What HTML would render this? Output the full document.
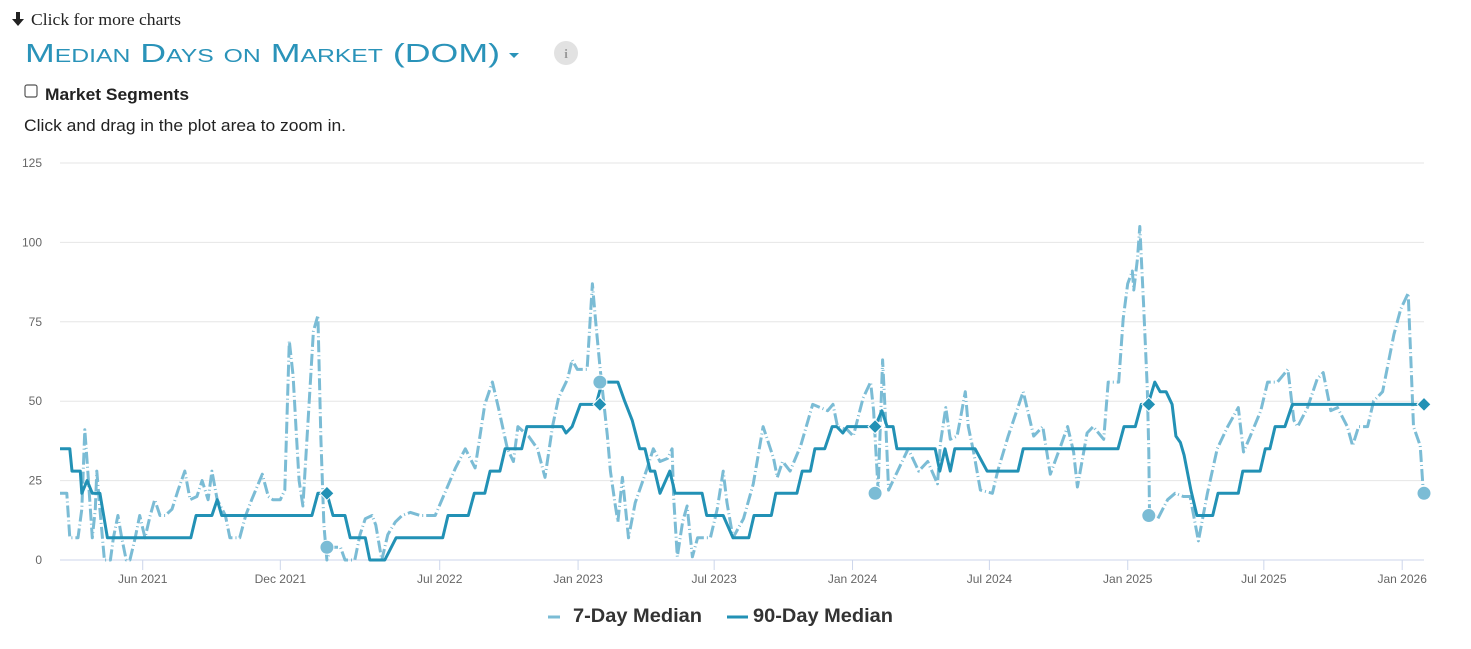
<!DOCTYPE html>
<html><head><meta charset="utf-8">
<style>
html,body{margin:0;padding:0;background:#fff;width:1471px;height:649px;overflow:hidden;}
svg{position:absolute;left:0;top:0;}
</style></head>
<body>
<svg id="chart" width="1471" height="649" viewBox="0 0 1471 649" xmlns="http://www.w3.org/2000/svg">
  <g>
    <path d="M16 12 L20 12 L20 19 L24 19 L18 26 L12 19 L16 19 Z" fill="#222"/>
    <text x="31" y="25" font-family="Liberation Serif, serif" font-size="17" fill="#222" textLength="150" lengthAdjust="spacingAndGlyphs">Click for more charts</text>
  </g>
  <g>
    <text x="25" y="62" font-family="Liberation Sans, sans-serif" font-size="26" fill="#2a93b9" style="font-variant:small-caps" textLength="475" lengthAdjust="spacingAndGlyphs">Median Days on Market (DOM)</text>
    <path d="M509 53 L519 53 L514 58 Z" fill="#2a93b9"/>
  </g>
  <g>
    <circle cx="566" cy="53" r="12" fill="#e2e2e2"/>
    <text x="566" y="58" text-anchor="middle" font-family="Liberation Serif, serif" font-size="13" font-weight="bold" fill="#999">i</text>
  </g>
  <rect x="25" y="85" width="12" height="12" rx="2" fill="#fff" stroke="#555" stroke-width="1.2"/>
  <text x="45" y="100" font-family="Liberation Sans, sans-serif" font-size="17" font-weight="bold" fill="#222" textLength="144" lengthAdjust="spacingAndGlyphs">Market Segments</text>
  <text x="24" y="131" font-family="Liberation Sans, sans-serif" font-size="17" fill="#222" textLength="322" lengthAdjust="spacingAndGlyphs">Click and drag in the plot area to zoom in.</text>
  <g id="grid"></g>
  <g id="xaxis"></g>
  <g id="series"></g>
  <g>
    <g>
      <line x1="548" y1="617" x2="560" y2="617" stroke="#7bbcd5" stroke-width="3"/>
      <text x="573" y="622" font-family="Liberation Sans, sans-serif" font-size="19" font-weight="bold" fill="#333" textLength="129" lengthAdjust="spacingAndGlyphs">7-Day Median</text>
    </g>
    <g>
      <line x1="727" y1="617" x2="748" y2="617" stroke="#2291b5" stroke-width="3"/>
      <text x="753" y="622" font-family="Liberation Sans, sans-serif" font-size="19" font-weight="bold" fill="#333" textLength="140" lengthAdjust="spacingAndGlyphs">90-Day Median</text>
    </g>
  </g>
</svg>
<script>
// Data: days since 2021-02-11, values in days on market
const startDate = Date.UTC(2021,1,11);
const yTicks = [0,25,50,75,100,125];
const xTickDates = ["2021-06-01","2021-12-01","2022-07-01","2023-01-01","2023-07-01","2024-01-01","2024-07-01","2025-01-01","2025-07-01","2026-01-01"];
const xTickLabels = ["Jun 2021","Dec 2021","Jul 2022","Jan 2023","Jul 2023","Jan 2024","Jul 2024","Jan 2025","Jul 2025","Jan 2026"];
const d90Days = [0,13,16,27,29,36,43,53,63,174,181,202,209,215,335,343,355,363,379,386,406,412,432,447,509,516,543,551,565,572,585,592,614,621,668,673,681,692,713,721,742,751,761,771,778,785,791,798,811,818,854,860,882,895,916,923,946,952,980,987,998,1004,1017,1027,1033,1041,1047,1084,1093,1100,1108,1113,1164,1170,1177,1184,1190,1217,1233,1274,1281,1407,1415,1430,1438,1447,1456,1463,1471,1479,1484,1490,1495,1504,1512,1533,1540,1567,1573,1596,1603,1609,1616,1629,1639,1814];
const d90Values = [35,35,28,28,21,25,21,21,7,7,14,14,19,14,14,21,21,14,14,7,7,0,0,7,7,14,14,21,21,28,28,35,35,42,42,40,42,49,49,56,56,50,44,35,35,28,28,21,28,21,21,14,14,7,7,14,14,21,21,28,28,35,35,42,42,40,42,42,47,42,42,35,35,28,35,28,35,35,28,28,35,35,42,42,49,49,56,53,53,49,39,37,33,22,14,14,21,21,28,28,35,35,42,42,49,49];
const d7Days = [0,9,13,24,29,33,37,43,47,49,53,59,67,71,77,82,88,93,100,106,113,120,126,133,140,149,157,166,173,182,189,197,202,209,220,226,239,247,255,269,277,283,293,299,305,310,314,318,323,330,337,343,347,351,355,361,373,379,392,399,406,415,420,428,436,446,455,466,479,499,526,539,552,565,575,583,595,603,609,623,635,645,655,663,675,681,688,701,708,712,718,728,732,738,742,748,756,765,781,789,798,808,814,816,821,828,834,841,848,865,874,882,887,895,909,922,935,949,954,961,971,985,1001,1021,1028,1034,1047,1055,1068,1078,1082,1088,1094,1098,1102,1114,1128,1142,1154,1167,1171,1178,1184,1193,1197,1204,1208,1215,1224,1240,1247,1261,1281,1295,1307,1317,1331,1340,1348,1353,1366,1374,1388,1394,1408,1414,1420,1426,1428,1433,1436,1441,1446,1448,1449,1460,1473,1483,1494,1503,1514,1526,1539,1553,1567,1574,1583,1597,1606,1619,1633,1641,1646,1659,1672,1680,1690,1699,1712,1719,1727,1739,1747,1759,1774,1783,1793,1798,1800,1809,1813];
const d7Values = [21,21,7,7,16,41,28,7,16,28,16,0,0,7,14,7,0,0,7,14,7,14,19,14,14,16,22,28,19,20,25,19,28,19,14,7,7,14,19,27,20,19,19,22,69,58,41,25,17,44,72,77,38,11,0,4,4,0,0,8,13,14,11,0,8,12,14,15,14,14,29,35,29,49,56,48,35,31,42,39,35,26,42,51,57,63,60,60,87,76,61,39,28,18,12,26,7,18,29,35,31,32,35,20,1,12,17,1,7,7,16,28,18,7,13,24,42,32,26,31,28,36,49,47,49,42,41,39,51,56,47,22,63,44,22,28,35,28,31,24,37,48,38,39,44,53,42,34,22,21,28,39,53,39,42,27,36,42,34,23,40,42,38,56,56,76,87,91,85,95,105,81,54,34,15,13,19,21,20,20,6,21,35,42,48,34,39,47,56,56,60,44,42,48,57,59,47,48,42,36,42,42,50,53,71,79,84,54,42,36,22];
const markerDays = [355,718,1084,1448,1814];
const circleValues = [4,56,21,14,21];
const diamondValues = [21,49,42,49,49];

const X0=60, X1=1424, Y0=560, YTOP=163, DAYMAX=1814;
const xs = d => X0 + d*(X1-X0)/DAYMAX;
const ys = v => Y0 - v*(Y0-YTOP)/125;
const NS="http://www.w3.org/2000/svg";
function mk(tag, attrs, parent){const e=document.createElementNS(NS,tag);for(const k in attrs)e.setAttribute(k,attrs[k]);parent.appendChild(e);return e;}

const grid=document.getElementById('grid');
yTicks.forEach(t=>{
  const l=mk('line',{x1:X0,x2:X1,y1:ys(t),y2:ys(t),stroke:t===0?'#ccd6eb':'#e6e6e6','stroke-width':1},grid);
  
  
  const tx=mk('text',{x:42,y:ys(t)+4,'text-anchor':'end','font-family':'Liberation Sans, sans-serif','font-size':12,fill:'#666'},grid);
  tx.textContent=t;
  
  
});
const xa=document.getElementById('xaxis');
xTickDates.forEach((ds,i)=>{
  const d=(Date.parse(ds)-startDate)/86400000;
  const x=xs(d);
  const l=mk('line',{x1:x,x2:x,y1:Y0,y2:Y0+10,stroke:'#ccd6eb','stroke-width':1},xa);
  
  
  const tx=mk('text',{x:x,y:Y0+23,'text-anchor':'middle','font-family':'Liberation Sans, sans-serif','font-size':12,fill:'#666'},xa);
  tx.textContent=xTickLabels[i];
  
  
});
const sg=document.getElementById('series');
const p7=mk('path',{d:d7Days.map((d,i)=>(i?'L':'M')+xs(d).toFixed(1)+' '+ys(d7Values[i]).toFixed(1)).join(''),fill:'none',stroke:'#7bbcd5','stroke-width':3,'stroke-dasharray':'12,3,1,3','stroke-linejoin':'round'},sg);


const p90=mk('path',{d:d90Days.map((d,i)=>(i?'L':'M')+xs(d).toFixed(1)+' '+ys(d90Values[i]).toFixed(1)).join(''),fill:'none',stroke:'#2291b5','stroke-width':3,'stroke-linejoin':'round'},sg);


markerDays.forEach((d,i)=>{
  const c=mk('circle',{cx:xs(d),cy:ys(circleValues[i]),r:7,fill:'#7bbcd5',stroke:'#fff','stroke-width':1},sg);
  
  
  const x=xs(d), y=ys(diamondValues[i]);
  const p=mk('path',{d:`M${x} ${y-7}L${x+7} ${y}L${x} ${y+7}L${x-7} ${y}Z`,fill:'#2291b5',stroke:'#fff','stroke-width':1},sg);
  
  
});
</script>
</body></html>
